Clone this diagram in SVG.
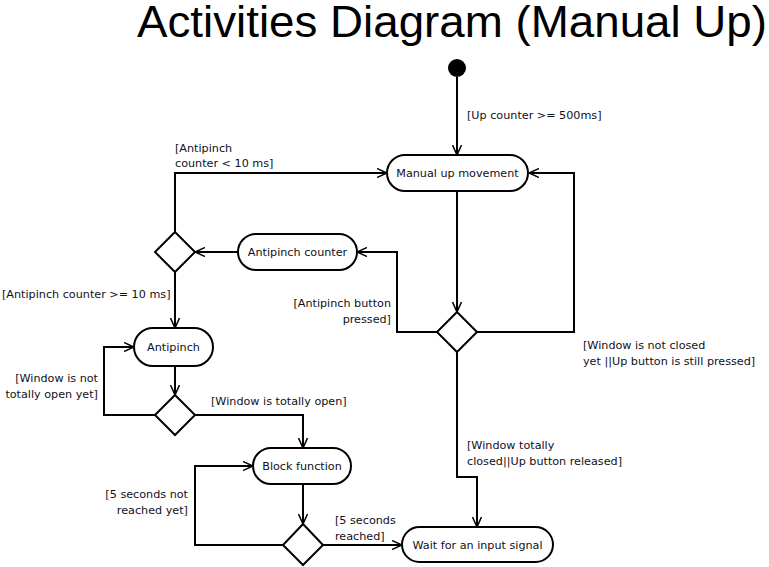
<svg xmlns="http://www.w3.org/2000/svg" width="769" height="567" viewBox="0 0 769 567">
<style>
.node{fill:#fff;stroke:#000;stroke-width:2}
.edge{fill:none;stroke:#000;stroke-width:2;marker-end:url(#arr)}
text{font-family:"DejaVu Sans","Verdana",sans-serif;font-size:11.2px;fill:#101020}
.c{text-anchor:middle}
.r{text-anchor:end}
.title{font-family:"Liberation Sans",Arial,sans-serif;font-size:44px;fill:#000}
</style>
<defs>
<marker id="arr" viewBox="0 0 10 10" refX="10" refY="5" markerWidth="10" markerHeight="10" orient="auto" markerUnits="userSpaceOnUse">
<path d="M0,0.5 L10,5 L0,9.5" fill="none" stroke="#000" stroke-width="1.5"/>
</marker>
</defs>
<rect width="769" height="567" fill="#fff"/>
<text class="title" x="137" y="37" textLength="630" lengthAdjust="spacingAndGlyphs">Activities Diagram (Manual Up)</text>

<g id="connectors">
<path class="edge" d="M457,77 L457,155"/>
<path class="edge" d="M457,191 L457,312"/>
<path class="edge" d="M477,332 L574,332 L574,173 L529,173"/>
<path class="edge" d="M437,332 L397,332 L397,252 L357,252"/>
<path class="edge" d="M238,252 L195,252"/>
<path class="edge" d="M175,232 L175,173 L387,173"/>
<path class="edge" d="M175,272 L175,328"/>
<path class="edge" d="M175,367 L175,395"/>
<path class="edge" d="M155,415 L104,415 L104,347 L134,347"/>
<path class="edge" d="M195,415 L303,415 L303,448"/>
<path class="edge" d="M303,484 L303,524"/>
<path class="edge" d="M283,545 L195,545 L195,466 L253,466"/>
<path class="edge" d="M323,545 L402,545"/>
<path class="edge" d="M457,352 L457,477 L477,477 L477,527"/>
</g>

<g id="labels">
<text x="467" y="119">[Up counter &gt;= 500ms]</text>
<text x="175" y="152">[Antipinch</text>
<text x="175" y="167">counter &lt; 10 ms]</text>
<text x="2" y="298">[Antipinch counter &gt;= 10 ms]</text>
<text class="r" x="391" y="307">[Antipinch button</text>
<text class="r" x="391" y="323">pressed]</text>
<text x="583" y="349">[Window is not closed</text>
<text x="583" y="365">yet ||Up button is still pressed]</text>
<text class="r" x="98" y="382">[Window is not</text>
<text class="r" x="98" y="398">totally open yet]</text>
<text x="211" y="405">[Window is totally open]</text>
<text x="467" y="449">[Window totally</text>
<text x="467" y="465">closed||Up button released]</text>
<text class="r" x="188" y="498">[5 seconds not</text>
<text class="r" x="188" y="514">reached yet]</text>
<text x="335" y="524">[5 seconds</text>
<text x="335" y="540">reached]</text>
</g>

<g id="start"><circle cx="457" cy="68" r="9" fill="#000"/></g>

<g id="manual-up">
<rect class="node" x="387" y="155" width="141" height="36" rx="18"/>
<text class="c" x="457.5" y="177">Manual up movement</text>
</g>

<g id="decision-main"><path class="node" d="M457,312 L477,332 L457,352 L437,332 Z"/></g>

<g id="antipinch-counter">
<rect class="node" x="238" y="234" width="119" height="36" rx="18"/>
<text class="c" x="297.5" y="256">Antipinch counter</text>
</g>

<g id="decision-counter"><path class="node" d="M175,232 L195,252 L175,272 L155,252 Z"/></g>

<g id="antipinch">
<rect class="node" x="134" y="328" width="79" height="38" rx="19"/>
<text class="c" x="173.5" y="351">Antipinch</text>
</g>

<g id="decision-open"><path class="node" d="M175,395 L195,415 L175,435 L155,415 Z"/></g>

<g id="block-function">
<rect class="node" x="253" y="448" width="98" height="36" rx="18"/>
<text class="c" x="302" y="470">Block function</text>
</g>

<g id="decision-seconds"><path class="node" d="M303,524 L323,545 L303,565 L283,545 Z"/></g>

<g id="wait">
<rect class="node" x="402" y="527" width="151" height="35" rx="17.5"/>
<text class="c" x="477.5" y="549">Wait for an input signal</text>
</g>
</svg>
